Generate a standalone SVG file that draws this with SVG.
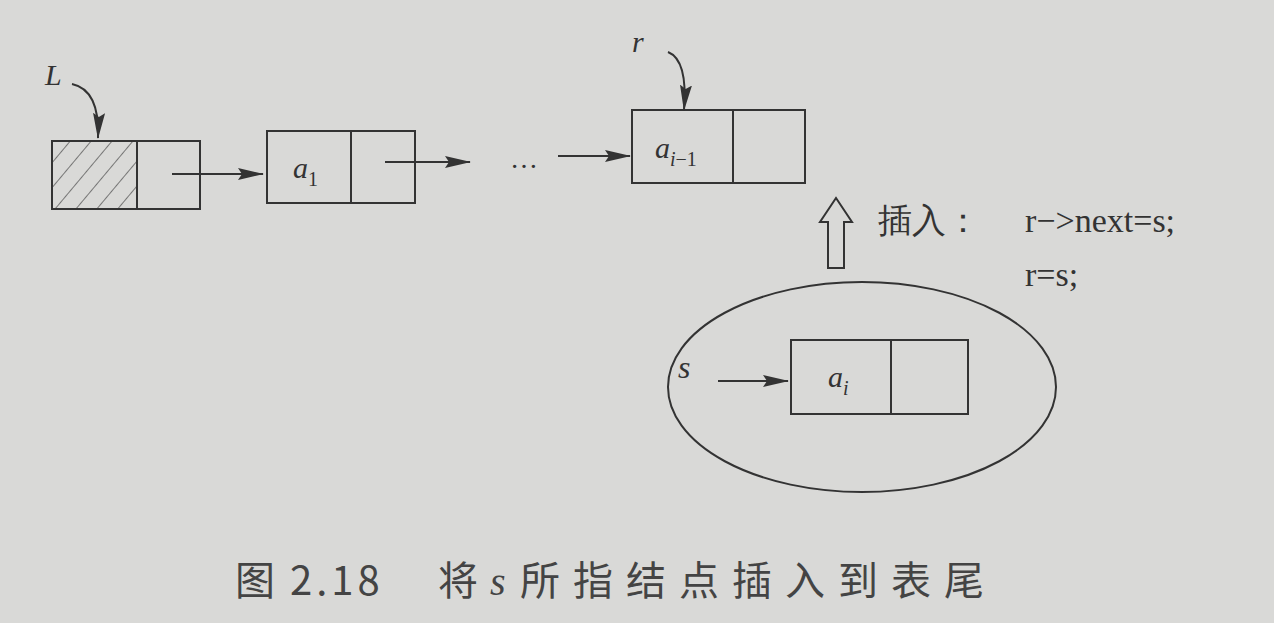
<svg xmlns="http://www.w3.org/2000/svg" width="1274" height="623" viewBox="0 0 1274 623">
<defs>
<marker id="ah" markerWidth="26" markerHeight="12" refX="25" refY="6" orient="auto" markerUnits="userSpaceOnUse"><path d="M0,0 L26,6 L0,12 L4,6 Z" fill="#333"/></marker>
<pattern id="hatch" width="16" height="16" patternUnits="userSpaceOnUse" patternTransform="rotate(40)"><line x1="0" y1="0" x2="0" y2="16" stroke="#555" stroke-width="1.5"/></pattern>
</defs>
<style>
.b{fill:none;stroke:#333;stroke-width:2}
.c{fill:none;stroke:#333;stroke-width:2}
.t{font-family:"Liberation Serif",serif;fill:#333}
.i{font-style:italic}
</style>
<rect width="1274" height="623" fill="#d9d9d7"/>
<g id="head"><rect x="52" y="141" width="85" height="68" fill="url(#hatch)"/><rect class="b" x="52" y="141" width="148" height="68"/><line class="b" x1="137" y1="141" x2="137" y2="209"/></g>
<g id="a1"><rect class="b" x="267" y="131" width="148" height="72"/><line class="b" x1="351" y1="131" x2="351" y2="203"/><text class="t i" x="293" y="178" font-size="30">a<tspan font-size="20" font-style="normal" dy="8">1</tspan></text></g>
<g id="ai1"><rect class="b" x="632" y="110" width="173" height="73"/><line class="b" x1="733" y1="110" x2="733" y2="183"/><text class="t i" x="655" y="158" font-size="30">a<tspan font-size="20" dy="8">i</tspan><tspan font-size="20" font-style="normal">−1</tspan></text></g>
<g id="ellipse"><ellipse class="b" cx="862" cy="387" rx="194" ry="105"/></g>
<g id="ai"><rect class="b" x="791" y="340" width="177" height="74"/><line class="b" x1="891" y1="340" x2="891" y2="414"/><text class="t i" x="828" y="387" font-size="30">a<tspan font-size="20" dy="8">i</tspan></text></g>
<g id="connectors">
<line class="c" x1="172" y1="174" x2="263" y2="174" marker-end="url(#ah)"/>
<line class="c" x1="385" y1="162" x2="470" y2="162" marker-end="url(#ah)"/>
<line class="c" x1="558" y1="156" x2="630" y2="156" marker-end="url(#ah)"/>
<line class="c" x1="718" y1="381" x2="788" y2="381" marker-end="url(#ah)"/>
<path class="c" d="M72,84 Q100,90 98,138" marker-end="url(#ah)"/>
<path class="c" d="M668,52 Q688,60 684,110" marker-end="url(#ah)"/>
<path class="c" d="M828,268 L828,222 L820,222 L836,198 L852,222 L844,222 L844,268 Z"/>
</g>
<text class="t i" x="45" y="85" font-size="30">L</text>
<text class="t i" x="632" y="52" font-size="30">r</text>
<text class="t" x="510" y="168" font-size="28">…</text>
<text class="t i" x="678" y="378" font-size="32">s</text>
<text class="t" x="878" y="232" font-size="34" font-family="'Noto Sans CJK SC',sans-serif">插入：</text>
<text class="t" x="1025" y="232" font-size="34">r−&gt;next=s;</text>
<text class="t" x="1025" y="286" font-size="34">r=s;</text>
<text x="235" y="595" font-size="40" fill="#444" font-family="'Noto Sans CJK SC',sans-serif">图<tspan x="290" letter-spacing="4">2.18</tspan><tspan x="438">将</tspan><tspan x="490" font-family="'Liberation Serif',serif" font-style="italic">s</tspan><tspan x="520" letter-spacing="13">所指结点插入到表尾</tspan></text>
</svg>
